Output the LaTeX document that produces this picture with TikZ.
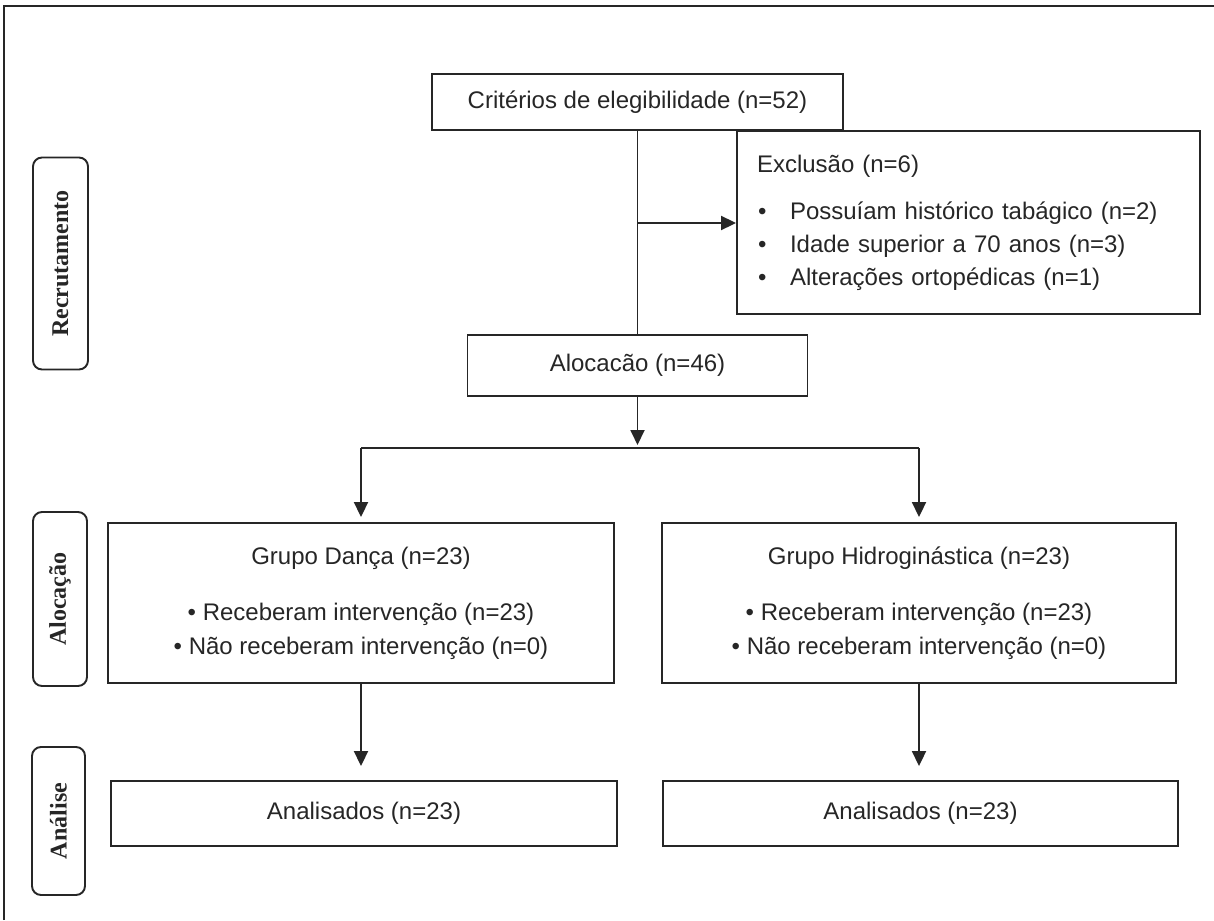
\documentclass[tikz,border=0pt]{standalone}
\usepackage{fontspec}
\setmainfont{Liberation Sans}
\newfontfamily\sidefont{Liberation Serif}
\usetikzlibrary{arrows.meta}
\definecolor{ink}{HTML}{262626}
\tikzset{
  box/.style={draw=ink, line width=1.9pt, inner sep=0pt, align=center,
    font=\fontsize{24}{34}\selectfont, text=ink},
  sidebox/.style={draw=ink, line width=1.9pt, rounded corners=9pt, inner sep=0pt,
    font=\sidefont\bfseries\fontsize{24}{28}\selectfont, text=ink},
  link/.style={draw=ink, line width=1.9pt},
  arr/.style={link, -{Triangle[length=15pt,width=14pt]}},
}
\begin{document}
\begin{tikzpicture}[x=1pt,y=-1pt]
\useasboundingbox (0,0) rectangle (1214,920);
% frame
\draw[ink, line width=1.4pt] (4,920) -- (4,6) -- (1214,6);

% side labels
\node[sidebox, minimum width=55pt, minimum height=212pt] (srec) at (60.5,263.5) {\rotatebox{90}{Recrutamento}};
\node[sidebox, minimum width=54pt, minimum height=174pt] (saloc) at (60,599) {\rotatebox{90}{Alocação}};
\node[sidebox, minimum width=53pt, minimum height=148pt] (sanal) at (58.5,821) {\rotatebox{90}{Análise}};

% main boxes
\node[box, minimum width=411pt, minimum height=56pt] (crit) at (637.5,102) {Critérios de elegibilidade (n=52)};
\node[box, minimum width=463pt, minimum height=183pt, align=left, text width=423pt, inner xsep=20pt,
      font=\fontsize{24}{33}\selectfont] (excl) at (968.5,222.5)
  {Exclusão (n=6)\\[14pt]
   \makebox[33pt][l]{\hspace{1pt}\textbullet}Possuíam histórico tabágico (n=2)\\
   \makebox[33pt][l]{\hspace{1pt}\textbullet}Idade superior a 70 anos (n=3)\\
   \makebox[33pt][l]{\hspace{1pt}\textbullet}Alterações ortopédicas (n=1)};
\node[box, minimum width=340pt, minimum height=61pt] (aloc) at (637.5,365.5) {Alocacão (n=46)};

\node[box, minimum width=506pt, minimum height=160pt] (danca) at (361,603)
  {Grupo Dança (n=23)\\[22pt]
   \textbullet{} Receberam intervenção (n=23)\\
   \textbullet{} Não receberam intervenção (n=0)};
\node[box, minimum width=514pt, minimum height=160pt] (hidro) at (919,603)
  {Grupo Hidroginástica (n=23)\\[22pt]
   \textbullet{} Receberam intervenção (n=23)\\
   \textbullet{} Não receberam intervenção (n=0)};

\node[box, minimum width=506pt, minimum height=65pt] (an1) at (364,813.5) {Analisados (n=23)};
\node[box, minimum width=515pt, minimum height=65pt] (an2) at (920.5,813.5) {Analisados (n=23)};

% connectors
\draw[link] (crit.south) -- (aloc.north);
\coordinate (jx) at (637.5,223);
\draw[arr] (jx) -- (jx -| excl.west);
\coordinate (hm) at (637.5,448);
\coordinate (hl) at (danca.north |- hm);
\coordinate (hr) at (hidro.north |- hm);
\draw[arr, shorten >=3pt] (aloc.south) -- (hm);
\draw[link] (hl) -- (hr);
\draw[arr, shorten >=5pt] (hl) -- (danca.north);
\draw[arr, shorten >=5pt] (hr) -- (hidro.north);
\draw[arr, shorten >=14pt] (danca.south) -- (danca.south |- an1.north);
\draw[arr, shorten >=14pt] (hidro.south) -- (hidro.south |- an2.north);
\end{tikzpicture}
\end{document}
